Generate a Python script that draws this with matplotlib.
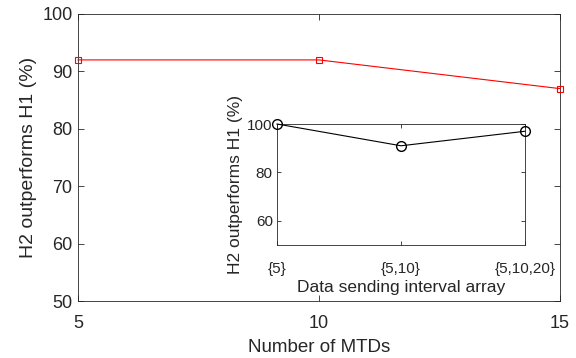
import matplotlib
matplotlib.use("Agg")
import matplotlib.pyplot as plt

mtds = [5, 10, 15]
main_vals = [92, 92, 87]
inset_cats = ["{5}", "{5,10}", "{5,10,20}"]
inset_vals = [100, 91, 97]

plt.rcParams['font.family'] = ['Liberation Sans', 'DejaVu Sans']
ac = (0.15, 0.15, 0.15)
plt.rcParams['axes.edgecolor'] = ac
plt.rcParams['xtick.color'] = ac
plt.rcParams['ytick.color'] = ac
plt.rcParams['axes.labelcolor'] = ac

fig = plt.figure(figsize=(5.76, 3.58), dpi=100)
ax = fig.add_axes([78/576, 57/358, 482/576, 287/358])
ax.plot(mtds, main_vals, color='red', lw=0.8, marker='s', markersize=5,
        markerfacecolor='none', markeredgecolor='red', markeredgewidth=0.8,
        clip_on=False, zorder=5)
ax.set_xlim(5, 15)
ax.set_ylim(50, 100)
ax.set_xticks([5, 10, 15])
ax.set_yticks([50, 60, 70, 80, 90, 100])
ax.tick_params(direction='in', top=True, right=True, labelsize=13, length=4, width=0.6, pad=4)
ax.tick_params(axis='x', pad=10)
for s in ax.spines.values():
    s.set_linewidth(0.6)
ax.set_xlabel("Number of MTDs", fontsize=13.5, labelpad=5)
ax.set_ylabel("H2 outperforms H1 (%)", fontsize=14, labelpad=4)

ins = fig.add_axes([277/576, 113/358, 248/576, 121/358])
xs = list(range(1, len(inset_cats) + 1))
ins.plot(xs, inset_vals, color='black', lw=0.8, marker='o', markersize=7,
         markerfacecolor='none', markeredgecolor='black', markeredgewidth=1.0,
         clip_on=False, zorder=5)
ins.set_xlim(1, 3)
ins.set_ylim(50, 100)
ins.set_xticks(xs)
ins.set_xticklabels(inset_cats)
ins.set_yticks([60, 80, 100])
ins.tick_params(direction='in', top=True, right=True, labelsize=11, length=3, width=0.6, pad=3)
ins.tick_params(axis='x', pad=12)
for s in ins.spines.values():
    s.set_linewidth(0.6)
ins.set_xlabel("Data sending interval array", fontsize=12.5, labelpad=3)
ins.set_ylabel("H2 outperforms H1 (%)", fontsize=12.5, labelpad=3)

fig.savefig("out.png", dpi=100)
